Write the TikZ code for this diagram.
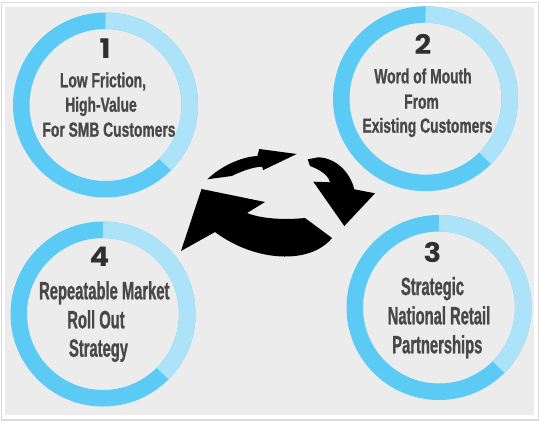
\documentclass[tikz,border=0pt]{standalone}
\usepackage{fontspec}
\newfontfamily\lblA[FakeStretch=0.675,FakeBold=0.9]{Liberation Sans}
\newfontfamily\lblB[FakeStretch=0.59,FakeBold=0.9]{Liberation Sans}
\newfontfamily\numfont[FakeStretch=1.08]{Poppins}
\definecolor{ringdark}{RGB}{91,203,245}
\definecolor{ringlight}{RGB}{173,227,248}
\definecolor{panel}{RGB}{236,236,236}
\definecolor{txt}{RGB}{72,72,72}
\definecolor{numc}{RGB}{48,48,48}
\begin{document}
\begin{tikzpicture}[x=1pt,y=-1pt,
  ringd/.style={draw=ringdark,line width=16.5pt},
  ringl/.style={draw=ringlight,line width=16.5pt},
  linea/.style={font=\lblA\bfseries\fontsize{20.5}{24}\selectfont, text=txt, anchor=base, inner sep=0pt},
  lineb/.style={font=\lblB\bfseries\fontsize{25}{29}\selectfont, text=txt, anchor=base, inner sep=0pt},
  num/.style={font=\numfont\bfseries\fontsize{27}{30}\selectfont, text=numc, anchor=base, inner sep=0pt},
  arr/.style={fill=black, draw=none}]

\useasboundingbox (0,0) rectangle (540,423);
\fill[white] (0,0) rectangle (540,423);
\draw[draw=black!14, line width=1.2pt] (1.5,2.5) rectangle (538.5,420);
\fill[panel] (5,7) rectangle (533.5,415);

% rings
\foreach \c/\x/\y in {c1/105.5/105, c2/425.5/98.7, c3/439/307.5, c4/103/314} {
  \coordinate (\c) at (\x,\y);
  \draw[ringd] (\c) circle[radius=84.25];
  \draw[ringl] (\c) ++(-90:84.25) arc[start angle=-90,end angle=45,radius=84.25];
}

% circle 1
\node[num] (n1) at (105,58.3) {1};
\node[linea] (t1a) at (103,87.3) {Low Friction,};
\node[linea] (t1b) at (101,111.7) {High-Value};
\node[linea] (t1c) at (109,136.7) {For SMB Customers};
% circle 2
\node[num] (n2) at (423,54.3) {2};
\node[linea] (t2a) at (423,83.3) {Word of Mouth};
\node[linea] (t2b) at (421.5,108.7) {From};
\node[linea] (t2c) at (427.5,132.7) {Existing Customers};
% circle 3
\node[num] (n3) at (432.5,262.7) {3};
\node[lineb] (t3a) at (432.5,295) {Strategic};
\node[lineb] (t3b) at (439,324.3) {National Retail};
\node[lineb] (t3c) at (437.3,353.3) {Partnerships};
% circle 4
\node[num] (n4) at (99.5,266.7) {4};
\node[lineb] (t4a) at (104.3,299.3) {Repeatable Market};
\node[lineb] (t4b) at (96,328.3) {Roll Out};
\node[lineb] (t4c) at (98.5,356.7) {Strategy};

% arrow A (top)
\fill[arr] (207.3,179.3) -- (231.7,176) .. controls (240,172) and (252,167) .. (262,166.7)
  -- (263.3,170) -- (296.7,154) -- (259.3,149) -- (257.3,156)
  .. controls (240,157) and (220,167) .. (207.3,179.3) -- cycle;
% arrow B (right)
\fill[arr] (307.7,159.3) -- (310,166) .. controls (318,169) and (328,174) .. (330,182.3)
  -- (313.3,181.7) -- (344.3,226) -- (375,193.3) -- (354.3,189.3)
  .. controls (350,172) and (336,158) .. (318.3,157.3) -- cycle;
% arrow C (big, bottom)
\fill[arr] (201.5,189) -- (265,202) -- (247,213) .. controls (262,219) and (285,220) .. (305,218)
  -- (332,238) .. controls (310,265) and (255,262) .. (215,232) -- (181,251) -- cycle;
\end{tikzpicture}
\end{document}
